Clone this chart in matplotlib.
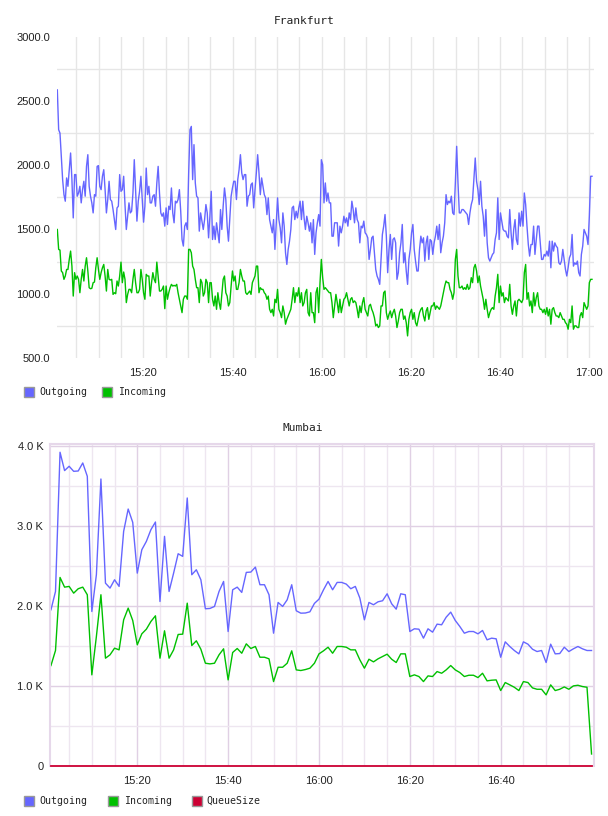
import numpy as np
import matplotlib
matplotlib.use("Agg")
import matplotlib.pyplot as plt
from matplotlib.ticker import FixedLocator
from matplotlib.patches import Rectangle

# ---------------- data ----------------
# Frankfurt: samples (~18 s apart) from 15:00:43 to 17:00:36, minutes after 15:00
fra_start_min = 0.72
fra_end_min = 120.6
fra_outgoing = [
    2586, 2276, 2250, 2069, 1888, 1771, 1720, 1901, 1836, 1965,
    2095, 1888, 1590, 1927, 1927, 1759, 1784, 1836, 1707, 1810,
    1875, 1759, 1991, 2082, 1836, 1759, 1707, 1629, 1771, 1759,
    1991, 1997, 1836, 1810, 1914, 1965, 1810, 1629, 1733, 1875,
    1733, 1720, 1655, 1577, 1500, 1668, 1681, 1927, 1797, 1810,
    1914, 1694, 1500, 1603, 1707, 1629, 1642, 1784, 2043, 1810,
    1565, 1720, 1797, 1914, 1733, 1557, 1681, 1978, 1771, 1836,
    1707, 1707, 1759, 1771, 1681, 1862, 1991, 1784, 1629, 1603,
    1629, 1526, 1668, 1539, 1681, 1655, 1823, 1629, 1552, 1720,
    1707, 1733, 1810, 1642, 1422, 1371, 1526, 1552, 1500, 1940,
    2276, 2302, 1888, 2160, 1862, 1759, 1746, 1487, 1629, 1565,
    1500, 1577, 1694, 1629, 1435, 1603, 1797, 1422, 1526, 1422,
    1552, 1474, 1396, 1655, 1500, 1681, 1823, 1733, 1526, 1409,
    1577, 1759, 1823, 1875, 1875, 1733, 1888, 1965, 2082, 1940,
    1888, 1927, 1927, 1681, 1759, 1771, 1849, 1862, 1668, 1810,
    1940, 2082, 1940, 1771, 1901, 1836, 1771, 1746, 1616, 1746,
    1577, 1526, 1474, 1577, 1345, 1552, 1746, 1577, 1513, 1396,
    1629, 1526, 1319, 1228, 1345, 1409, 1500, 1668, 1681, 1577,
    1642, 1590, 1668, 1720, 1577, 1720, 1590, 1500, 1603, 1552,
    1487, 1552, 1396, 1577, 1306, 1474, 1552, 1616, 1526, 2043,
    2004, 1707,
    1862, 1720, 1784, 1707, 1707, 1448, 1448, 1552, 1552, 1552,
    1371, 1526, 1474, 1526, 1603, 1552, 1590, 1526, 1629, 1577,
    1720, 1655, 1552, 1668, 1577, 1552, 1396, 1526, 1513, 1565,
    1474, 1461, 1435, 1267, 1345, 1435, 1448, 1319, 1189, 1138,
    1112, 1073, 1267, 1461, 1526, 1616, 1448, 1164, 1345, 1461,
    1267, 1422, 1435, 1396, 1112, 1164, 1319, 1396, 1539, 1241,
    1319, 1177, 1073, 1267, 1345, 1474, 1539, 1345, 1254, 1177,
    1177, 1345, 1448, 1396, 1435, 1254, 1396, 1448, 1267, 1422,
    1409, 1306, 1396, 1448, 1526, 1422, 1539, 1319, 1396, 1448,
    1552, 1771, 1694, 1720, 1707, 1759, 1629, 1616, 1862, 2147,
    1862, 1629,
    1629, 1655, 1655, 1642, 1629, 1616, 1539, 1629, 1694, 1733,
    1888, 2056, 1875, 1810, 1694, 1875, 1681, 1603, 1448, 1655,
    1396, 1280, 1254, 1280, 1306, 1319, 1422, 1474, 1746, 1422,
    1629, 1565, 1500, 1487, 1487, 1448, 1435, 1655, 1474, 1345,
    1500, 1577, 1422, 1383, 1629, 1526, 1642, 1526, 1784, 1694,
    1526, 1383, 1293, 1383, 1383, 1526, 1306, 1422, 1526, 1526,
    1396, 1267, 1267, 1306, 1293, 1332, 1293, 1409, 1202, 1409,
    1332, 1396, 1371, 1358, 1241, 1228, 1254, 1345, 1267, 1189,
    1138, 1202, 1280, 1306, 1461, 1215, 1241, 1228, 1254, 1164,
    1138, 1306, 1371, 1500, 1474, 1448, 1383, 1603, 1914, 1914,
]
fra_incoming = [
    1500, 1345, 1340, 1177, 1164, 1112, 1138, 1189, 1189, 1267,
    1332, 1215, 982, 1164, 1112, 1138, 1112, 1008, 1112, 1189,
    1099, 1215, 1280, 1177, 1047, 1039, 1042, 1086, 1091, 1202,
    1280, 1189, 1112, 1164, 1202, 1228, 1138, 1021, 1189, 1112,
    1107, 1112, 995, 1008, 1000, 1099, 1060, 1138, 1246, 1086,
    1169, 1112, 931, 995, 1034, 1034, 1008, 1112, 1189, 1086,
    1008, 1008, 1034, 1189, 1112, 1008, 957, 1151, 1138, 1138,
    982, 1086, 1164, 1112, 1086, 1246, 1138, 1021, 1021, 1034,
    1060, 884, 1060, 957, 1008, 1047, 1073, 1060, 1065, 1060,
    1073, 1008, 957, 905, 853, 957, 982, 982, 957, 1345,
    1345, 1319, 1215, 1189, 1112, 1047, 1047, 931, 1112, 1086,
    982, 1008, 1112, 1086, 931, 1086, 1086, 957, 905, 982,
    879, 1008, 931, 879, 995, 1112, 1138, 1008, 982, 905,
    931, 1060, 1177, 1099, 1138, 1034, 1034, 1086, 1189, 1138,
    1099, 1099, 1008, 995, 1008, 1021, 995, 1086, 1112, 1138,
    1215, 1215, 1008, 1047, 1034, 1034, 1008, 995, 957, 982,
    879, 853, 879, 827, 957, 931, 1034, 879, 853, 814,
    905, 853, 763, 801, 827, 853, 879, 957, 1047, 931,
    1008, 982, 1047, 931, 1008, 905, 931, 1008, 1034, 853,
    827, 1008, 853, 853, 775, 1008, 1047, 853, 1086, 1267,
    1125, 1034,
    1047, 1034, 1021, 1008, 1008, 931, 814, 905, 995, 931,
    853, 957, 853, 905, 957, 970, 1008, 957, 905, 957,
    970, 931, 944, 931, 879, 814, 905, 853, 931, 970,
    879, 853, 827, 905, 918, 879, 853, 814, 750, 763,
    737, 750, 905, 905, 1008, 1021, 853, 801, 840, 866,
    814, 853, 879, 827, 737, 788, 853, 879, 879, 801,
    827, 775, 672, 801, 853, 879, 801, 853, 775, 750,
    801, 853, 879, 892, 827, 788, 866, 892, 801, 853,
    905, 905, 931, 879, 905, 892, 879, 905, 957, 1008,
    1060, 1099, 1086, 1086, 1034, 1008, 957, 1008, 1267, 1345,
    1138, 1047,
    1047, 1060, 1034, 1047, 1034, 1073, 1034, 1047, 1125, 1086,
    1202, 1228, 1177, 1086, 1138, 1060, 1008, 957, 879, 957,
    879, 814, 853, 879, 892, 879, 982, 1047, 1151, 931,
    1060, 982, 1008, 931, 970, 957, 944, 1073, 905, 840,
    905, 944, 827, 944, 957, 944, 931, 957, 1164, 1228,
    957, 1008, 905, 944, 853, 1008, 905, 970, 1008, 905,
    879, 879, 853, 879, 840, 892, 827, 879, 763, 879,
    892, 853, 827, 827, 814, 853, 827, 801, 801, 775,
    763, 724, 801, 775, 905, 724, 750, 750, 737, 737,
    827, 853, 814, 931, 905, 879, 905, 1086, 1112, 1112,
]

# Mumbai: one sample per minute, 15:01 .. 17:00
mum_minutes = list(range(1, 121))
mum_outgoing = [
    1950, 2179, 3917, 3688, 3742, 3679, 3683, 3783, 3617, 1929,
    2388, 3583, 2283, 2221, 2325, 2242, 2929, 3208, 3042, 2408,
    2700, 2804, 2950, 3046, 2054, 2867, 2179, 2408, 2650, 2617,
    3346, 2388, 2450, 2325, 1963, 1967, 1992, 2179, 2304, 1679,
    2200, 2233, 2167, 2417, 2421, 2483, 2263, 2263, 2138, 1658,
    2042, 1992, 2075, 2263, 1938,
    1908, 1910, 1925, 2030, 2083, 2200, 2304, 2200, 2292, 2292,
    2271, 2213, 2242, 2096, 1825, 2042, 2013, 2050, 2063, 2150,
    2025, 1958, 2150, 2138, 1679, 1713, 1708, 1596, 1713, 1671,
    1771, 1763, 1858, 1921, 1817, 1742, 1658, 1679, 1679, 1650,
    1692, 1575, 1596, 1588, 1358, 1550, 1492, 1442, 1400, 1550,
    1521, 1458, 1429, 1442, 1292, 1521, 1400, 1404, 1483, 1429,
    1463, 1492, 1463, 1442, 1442,
]
mum_incoming = [
    1254, 1442, 2354, 2233, 2242, 2158, 2213, 2233, 2138, 1138,
    1617, 2138, 1346, 1388, 1471, 1450, 1825, 1971, 1817, 1513,
    1650, 1708, 1804, 1875, 1346, 1688, 1346, 1450, 1642, 1646,
    2033, 1504, 1563, 1458, 1283, 1275, 1283, 1388, 1463, 1075,
    1417, 1467, 1408, 1525, 1467, 1492, 1358, 1358, 1338, 1054,
    1233, 1233, 1283, 1438, 1200,
    1192, 1204, 1221, 1283, 1400, 1438, 1483, 1408, 1492, 1492,
    1483, 1450, 1450, 1325, 1221, 1333, 1300, 1338, 1367, 1396,
    1333, 1292, 1400, 1400, 1117, 1138, 1117, 1054, 1125, 1117,
    1179, 1158, 1200, 1254, 1200, 1167, 1117, 1133, 1133, 1104,
    1158, 1063, 1071, 1075, 942, 1042, 1013, 983, 942, 1054,
    1042, 975, 958, 958, 888, 1013, 942, 958, 987, 958,
    1000, 1008, 992, 983, 150,
]
mum_queuesize = [0] * 120

fra_xtick_min = [20, 40, 60, 80, 100, 120]
fra_xtick_labels = ["15:20", "15:40", "16:00", "16:20", "16:40", "17:00"]
fra_ytick_vals = [500, 1000, 1500, 2000, 2500, 3000]
fra_ytick_labels = ["500.0", "1000.0", "1500.0", "2000.0", "2500.0", "3000.0"]
fra_ygrid_vals = [750, 1250, 1750, 2250, 2750]

mum_xtick_min = [20, 40, 60, 80, 100]
mum_xtick_labels = ["15:20", "15:40", "16:00", "16:20", "16:40"]
mum_ytick_vals = [0, 1000, 2000, 3000, 4000]
mum_ytick_labels = ["0", "1.0 K", "2.0 K", "3.0 K", "4.0 K"]
mum_yminor_vals = [500, 1500, 2500, 3500]

series_names_fra = ["Outgoing", "Incoming"]
series_names_mum = ["Outgoing", "Incoming", "QueueSize"]

# ---------------- style ----------------
BLUE = "#6666ff"
GREEN = "#00c000"
RED = "#cc0033"
TXT = "#222222"
W, H = 608, 816
TICK_FONT = dict(family="Liberation Sans", size=8)
MONO = "DejaVu Sans Mono"

fig = plt.figure(figsize=(W / 100, H / 100), dpi=100)
fig.patch.set_facecolor("white")


def px_axes(left, top, right, bottom):
    return fig.add_axes([left / W, 1 - bottom / H, (right - left) / W, (bottom - top) / H])


def style_ticks(ax):
    ax.tick_params(which="both", length=0, colors=TXT)
    ax.tick_params(axis="y", pad=4.8)
    ax.tick_params(axis="x", pad=7)
    for lab in ax.get_xticklabels() + ax.get_yticklabels():
        lab.set_fontfamily(TICK_FONT["family"])
        lab.set_fontsize(TICK_FONT["size"])


def legend(y_center, entries):
    for x_box, x_text, name, col in entries:
        fig.patches.append(Rectangle((x_box / W, 1 - (y_center + 5) / H), 10 / W, 10 / H,
                                     transform=fig.transFigure, facecolor=col,
                                     edgecolor="#999999", lw=1.0))
        fig.text(x_text / W, 1 - y_center / H, name, family=MONO, fontsize=7.1,
                 color=TXT, ha="left", va="center")


# ---------------- Frankfurt ----------------
ax1 = px_axes(56.7, 36.7, 594, 358)
fra_t = np.linspace(fra_start_min, fra_end_min, len(fra_outgoing))
ax1.plot(fra_t, fra_outgoing, color=BLUE, lw=1.0)
ax1.plot(fra_t, fra_incoming, color=GREEN, lw=1.0)
ax1.set_xlim(0.58, 121.05)
ax1.set_ylim(500, 3000)
ax1.set_xticks(fra_xtick_min, fra_xtick_labels)
ax1.xaxis.set_minor_locator(FixedLocator(list(range(5, 125, 5))))
ax1.set_yticks(fra_ytick_vals, fra_ytick_labels)
ax1.yaxis.set_minor_locator(FixedLocator(fra_ygrid_vals))
ax1.xaxis.grid(True, which="both", color="#e6e6e6", lw=1.0)
ax1.yaxis.grid(True, which="minor", color="#e6e6e6", lw=1.0)
ax1.set_axisbelow(True)
for s in ax1.spines.values():
    s.set_visible(False)
style_ticks(ax1)
fig.text(304 / W, 1 - 20.7 / H, "Frankfurt", family=MONO, fontsize=8.1, color=TXT,
         ha="center", va="center")
legend(392, [(24, 39, series_names_fra[0], BLUE), (102.3, 118.3, series_names_fra[1], GREEN)])

# ---------------- Mumbai ----------------
ax2 = px_axes(50, 444, 594, 766)
ax2.plot(mum_minutes, mum_outgoing, color=BLUE, lw=1.0)
ax2.plot(mum_minutes, mum_incoming, color=GREEN, lw=1.0)
ax2.plot(mum_minutes, mum_queuesize, color=RED, lw=1.3, clip_on=False, zorder=5)
ax2.set_xlim(0.79, 120.54)
ax2.set_ylim(0, 4020)
ax2.set_xticks(mum_xtick_min, mum_xtick_labels)
ax2.xaxis.set_minor_locator(FixedLocator(list(range(5, 120, 5))))
ax2.set_yticks(mum_ytick_vals, mum_ytick_labels)
ax2.yaxis.set_minor_locator(FixedLocator(mum_yminor_vals))
ax2.grid(True, which="major", color="#e0d0e4", lw=1.0)
ax2.grid(True, which="minor", color="#eee6f0", lw=1.0)
ax2.set_axisbelow(True)
for name, s in ax2.spines.items():
    s.set_color("#e6d8ea")
    s.set_linewidth(1.5)
ax2.spines["bottom"].set_visible(False)
style_ticks(ax2)
fig.text(303 / W, 1 - 428.3 / H, "Mumbai", family=MONO, fontsize=8.0, color=TXT,
         ha="center", va="center")
legend(800.7, [(24, 39, series_names_mum[0], BLUE), (108.3, 124, series_names_mum[1], GREEN),
               (192.3, 206.7, series_names_mum[2], RED)])

fig.savefig("out.png", dpi=100, facecolor="white")
